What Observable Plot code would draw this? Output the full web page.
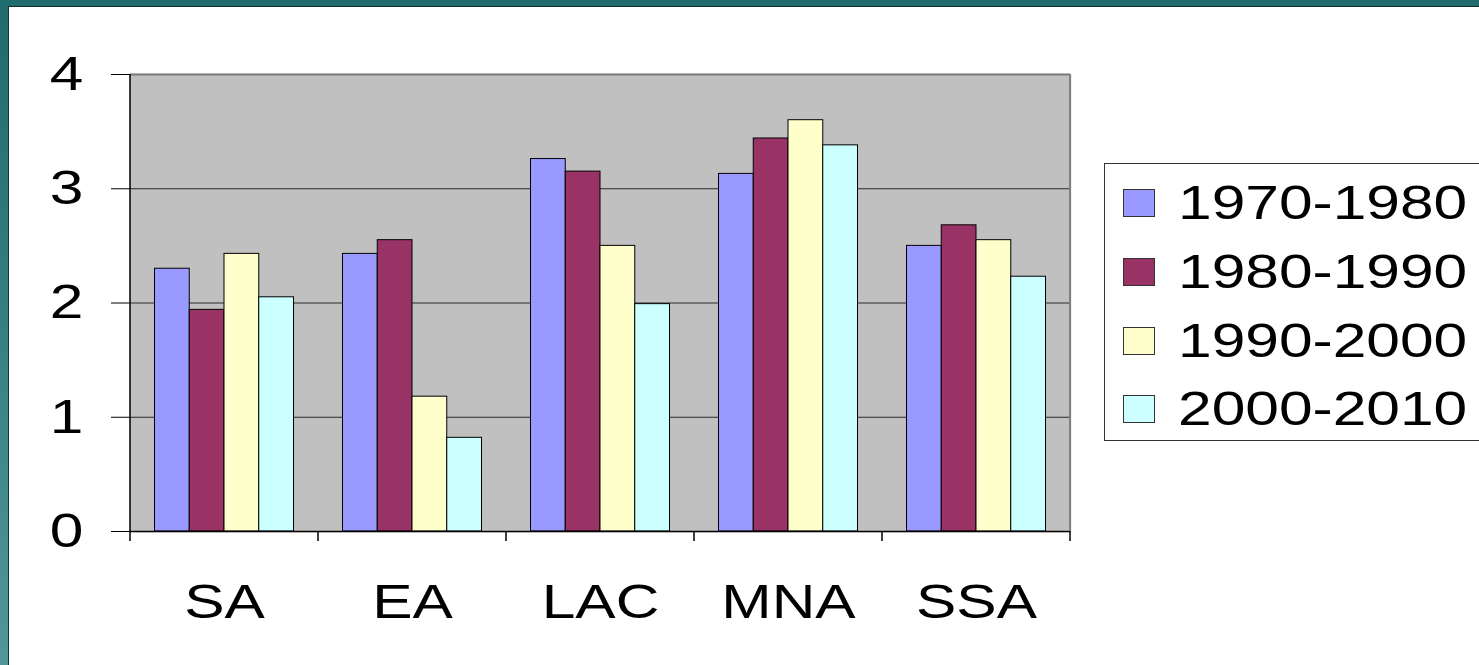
<!DOCTYPE html>
<html>
<head>
<meta charset="utf-8">
<script src="https://cdn.jsdelivr.net/npm/d3@7"></script>
<script src="https://cdn.jsdelivr.net/npm/@observablehq/plot@0.6"></script>
<style>
  html, body { margin: 0; padding: 0; }
  body {
    width: 1479px; height: 665px; overflow: hidden; position: relative;
    background: linear-gradient(to bottom, #1f6b6d 0%, #3a8283 55%, #529798 100%);
  }
  #page {
    position: absolute; left: 8px; top: 6px; right: 0; bottom: 0;
    border-left: 1px solid #163636; border-top: 1px solid #112c2c;
    background: #fff;
  }
  #chart { position: absolute; left: 9px; top: 7px; width: 1081px; }
  #chart svg text { font-family: "Liberation Sans", Arial, sans-serif; font-size: 48px; fill: #000; }
  #legend {
    position: absolute; left: 1104px; top: 163px; width: 420px; height: 278px;
    box-sizing: border-box; border: 1px solid #333; background: #fff;
  }
  .row { position: absolute; left: 0; height: 68.8px; display: flex; align-items: center; }
  .sw { width: 32px; height: 28px; box-sizing: border-box; border: 1px solid #333; margin-left: 18px; flex: none; }
  .lab {
    display: inline-block; margin-left: 23px; font-family: "Liberation Sans", Arial, sans-serif;
    font-size: 48px; line-height: 1; color: #000; transform: scaleX(1.26); transform-origin: left center; white-space: nowrap;
  }
</style>
</head>
<body>
<div id="page"></div>
<div id="chart"></div>
<div id="legend"></div>
<script>
const categories = ["SA", "EA", "LAC", "MNA", "SSA"];
const series = ["1970-1980", "1980-1990", "1990-2000", "2000-2010"];
const v1970 = [2.30, 2.43, 3.26, 3.13, 2.50];
const v1980 = [1.94, 2.55, 3.15, 3.44, 2.68];
const v1990 = [2.43, 1.18, 2.50, 3.60, 2.55];
const v2000 = [2.05, 0.82, 1.99, 3.38, 2.23];
const colors = ["#9999FF", "#993366", "#FFFFCC", "#CCFFFF"];
const yTicks = [0, 1, 2, 3, 4];

const seriesValues = [v1970, v1980, v1990, v2000];
const rows = categories.flatMap((c, i) =>
  series.map((s, j) => ({category: c, series: s, value: seriesValues[j][i]}))
);

const plot = Plot.plot({
  width: 1081,
  height: 644,
  marginLeft: 121,
  marginRight: 20,
  marginTop: 67,
  marginBottom: 120,
  facet: {data: rows, x: "category"},
  fx: {domain: categories, paddingInner: 0, paddingOuter: 0, round: false, axis: "bottom", label: null, tickSize: 0, tickPadding: 52},
  x: {domain: series, paddingInner: 0, paddingOuter: 0.705, round: false, axis: null},
  y: {domain: [0, 4], ticks: yTicks, tickFormat: d => String(d), tickSize: 19, tickPadding: 28, label: null},
  color: {domain: series, range: colors},
  style: {fontFamily: "Liberation Sans, Arial, sans-serif", fontSize: "48px", background: "transparent", overflow: "visible"},
  marks: [
    Plot.frame({fill: "#C0C0C0", stroke: "#C0C0C0", strokeWidth: 1.5}),
    Plot.ruleY(yTicks.filter(d => d > 0 && d < 4), {stroke: "#2a2a2a", strokeWidth: 1.2}),
    Plot.ruleY([4], {stroke: "#7a7a7a", strokeWidth: 2}),
    Plot.barY(rows, {x: "series", y: "value", fill: "series", stroke: "#000", strokeWidth: 1}),
    Plot.ruleY([0], {stroke: "#000", strokeWidth: 1.5})
  ]
});

document.getElementById("chart").append(plot);

// Decorations derived from the plot's own scales
const fxs = plot.scale("fx");
const ys = plot.scale("y");
const yLin = d3.scaleLinear(ys.domain, ys.range);
const r0 = Math.min(...fxs.range), r1 = Math.max(...fxs.range);
const step = (r1 - r0) / fxs.domain.length;
const svg = d3.select(plot);
const g = svg.append("g");
const y0 = yLin(0), yTop = yLin(4);
g.append("line").attr("x1", r1).attr("x2", r1).attr("y1", yTop).attr("y2", y0)
  .attr("stroke", "#808080").attr("stroke-width", 2);
g.append("line").attr("x1", r0).attr("x2", r0).attr("y1", yTop).attr("y2", y0)
  .attr("stroke", "#000").attr("stroke-width", 1.5);
g.selectAll("line.b").data(d3.range(fxs.domain.length + 1)).join("line")
  .attr("class", "b")
  .attr("x1", i => r0 + i * step).attr("x2", i => r0 + i * step)
  .attr("y1", y0).attr("y2", y0 + 10)
  .attr("stroke", "#000").attr("stroke-width", 1.5);

// Horizontal stretch of the text, as in the reference
const S = 1.26;
svg.selectAll("text").each(function () {
  const bb = this.getBBox();
  const anchor = getComputedStyle(this).textAnchor;
  const ax = anchor === "end" ? bb.x + bb.width : anchor === "middle" ? bb.x + bb.width / 2 : bb.x;
  const t = this.getAttribute("transform") || "";
  this.setAttribute("transform", `${t} translate(${ax},0) scale(${S},1) translate(${-ax},0)`);
});

// Legend from the color scale
const cs = plot.scale("color");
const legend = d3.select("#legend");
cs.domain.forEach((d, i) => {
  const row = legend.append("div").attr("class", "row").style("top", (4.6 + i * 68.8) + "px");
  row.append("div").attr("class", "sw").style("background", cs.range[i]);
  row.append("span").attr("class", "lab").text(d);
});
</script>
</body>
</html>
